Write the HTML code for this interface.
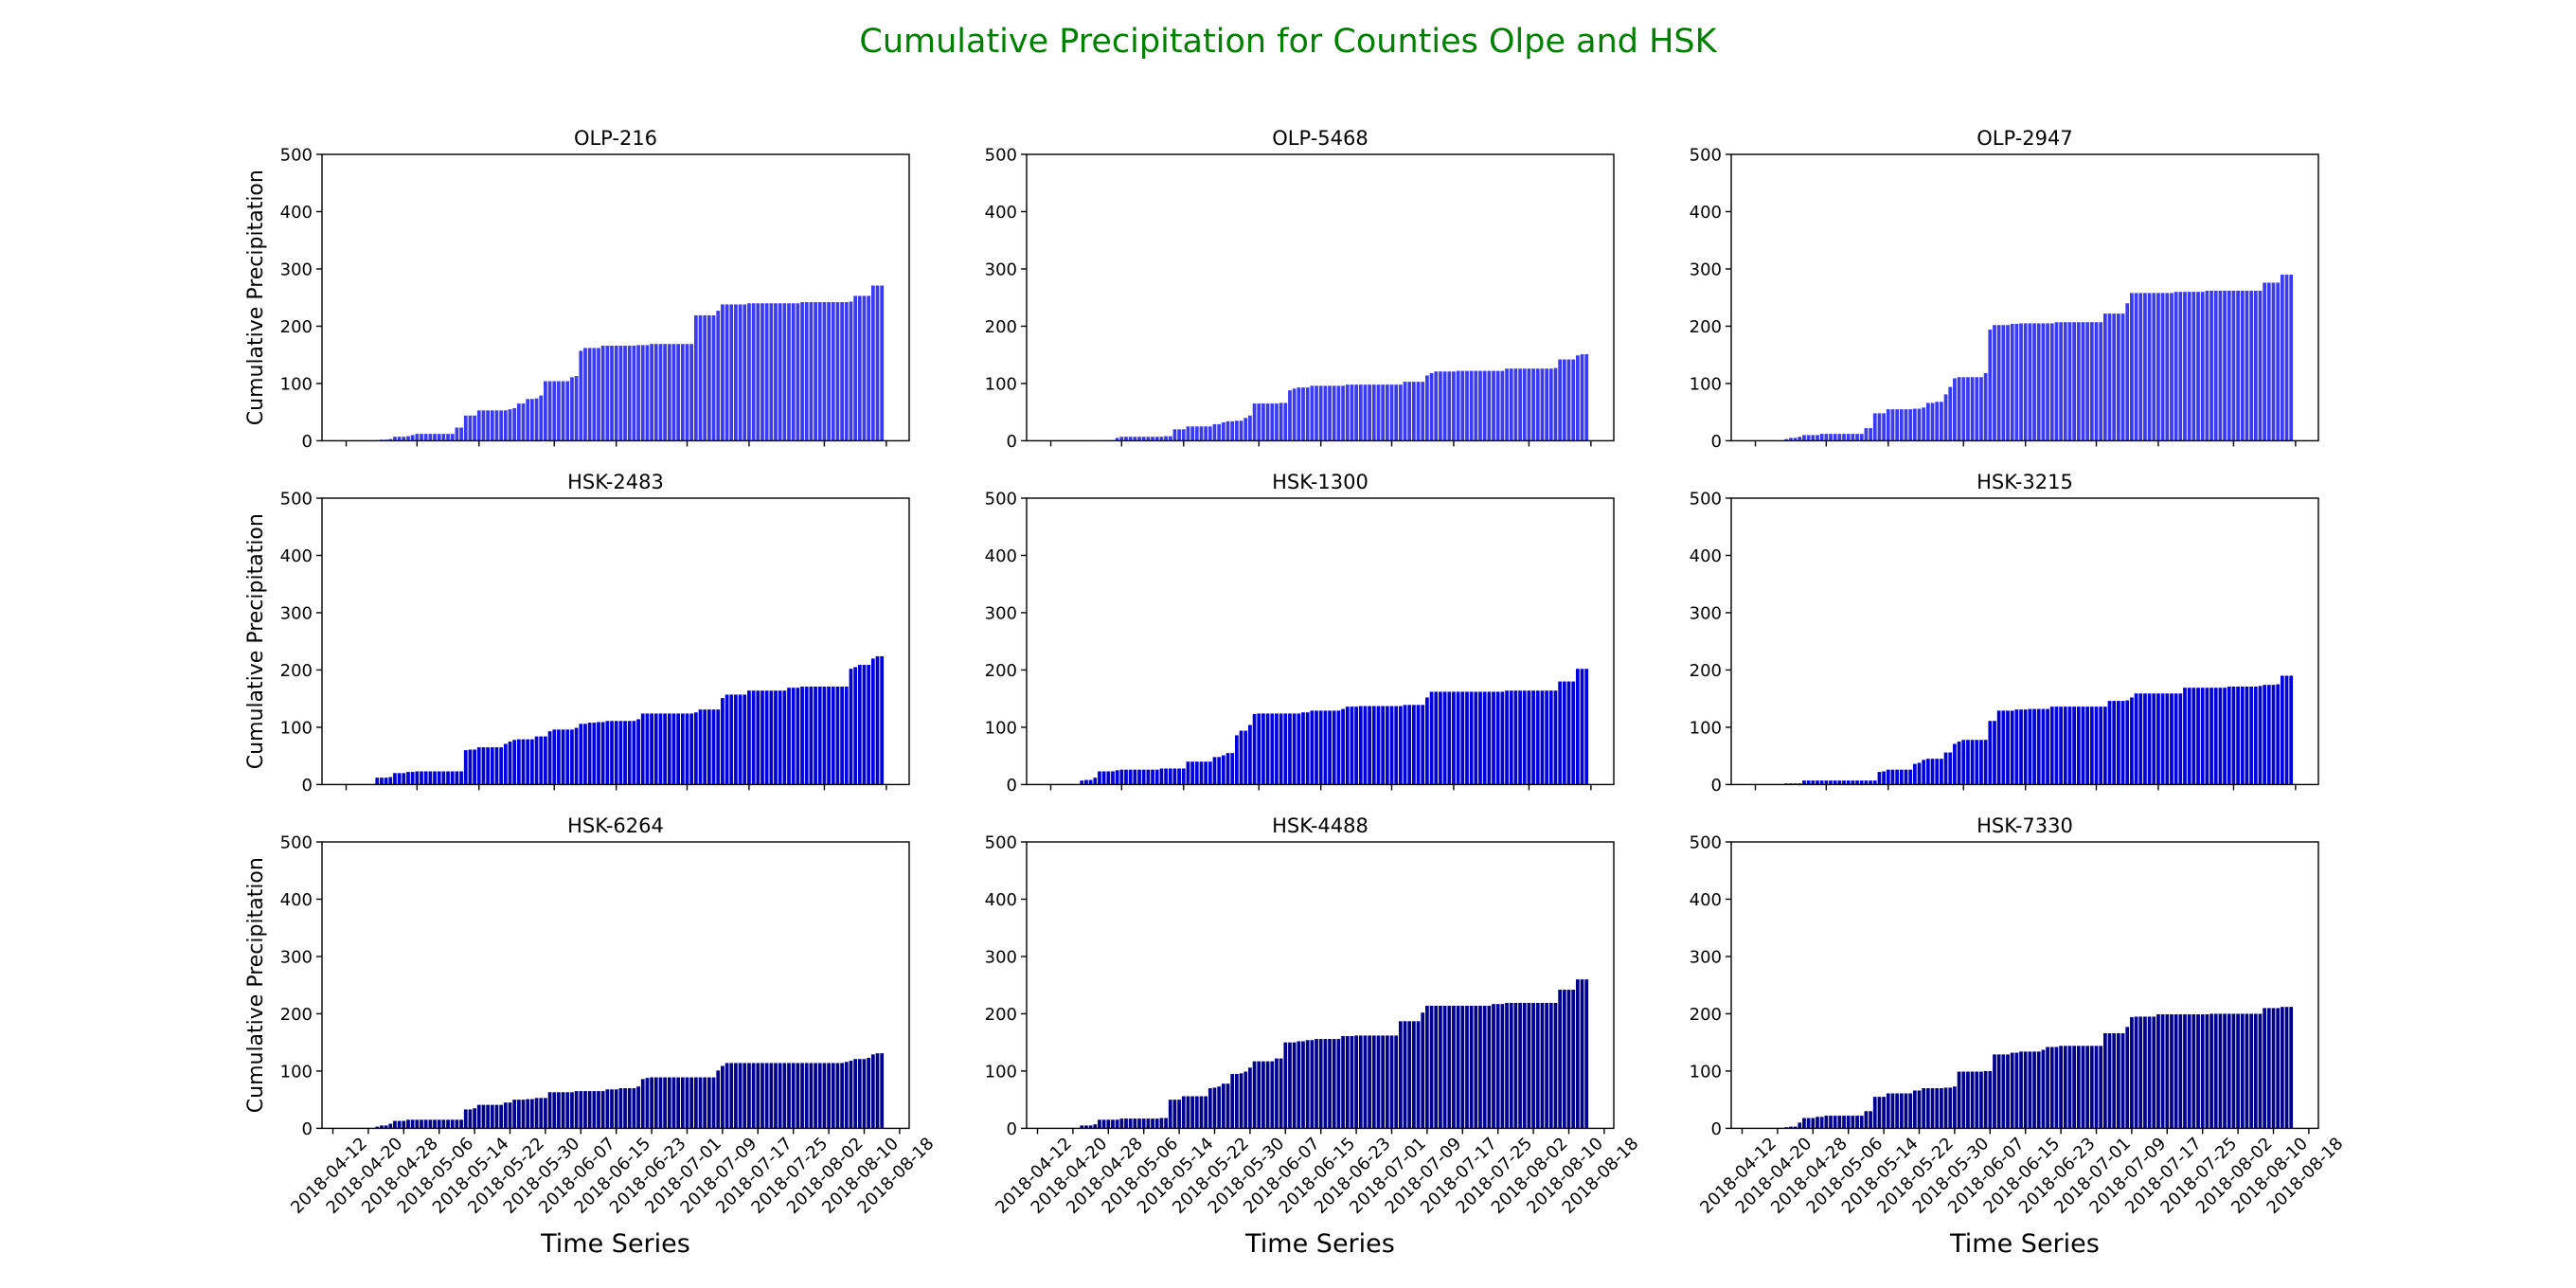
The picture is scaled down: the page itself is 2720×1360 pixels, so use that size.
<!DOCTYPE html>
<html><head><meta charset="utf-8"><style>
html,body{margin:0;padding:0;background:#fff;}
svg{display:block;font-family:"DejaVu Sans","Liberation Sans",sans-serif;}
</style></head><body>
<svg id="fig" width="2720" height="1360" viewBox="0 0 2720 1360">
<text x="1360" y="55" text-anchor="middle" font-size="35" fill="#008000">Cumulative Precipitation for Counties Olpe and HSK</text>
</svg>
<script>
// Panel titles
const panelTitles = ["OLP-216","OLP-5468","OLP-2947","HSK-2483","HSK-1300","HSK-3215","HSK-6264","HSK-4488","HSK-7330"];
// Daily bars start 2018-04-16 (day 4 from 2018-04-12), 121 days; run-length [value, days]
const olp216 = [[0,6],[1,1],[2,2],[3,1],[7,3],[8,1],[10,1],[12,9],[23,2],[44,3],[53,7],[55,1],[57,1],[65,2],[73,2],[74,1],[79,1],[104,6],[111,1],[113,1],[157,1],[162,4],[166,8],[167,3],[169,10],[219,5],[227,1],[238,6],[240,12],[242,11],[243,1],[253,4],[271,3]];
const olp5468 = [[0,10],[1,4],[5,1],[7,10],[8,2],[20,3],[25,6],[29,2],[32,1],[34,2],[35,2],[40,1],[44,1],[65,6],[66,2],[88,1],[91,1],[93,3],[96,8],[98,13],[103,5],[114,1],[118,1],[121,5],[122,11],[126,11],[127,1],[142,4],[149,1],[151,2]];
const olp2947 = [[0,6],[3,1],[5,2],[7,1],[10,4],[12,10],[22,2],[48,3],[55,6],[56,2],[58,1],[66,2],[68,2],[81,1],[94,1],[109,1],[111,6],[118,1],[194,1],[202,4],[204,2],[205,8],[207,11],[222,5],[240,1],[258,10],[260,7],[262,13],[276,4],[290,3]];
const hsk2483 = [[0,6],[12,3],[13,1],[20,3],[22,2],[23,11],[60,1],[61,2],[65,6],[71,1],[75,1],[78,1],[79,4],[84,3],[93,1],[96,5],[99,1],[106,2],[108,2],[109,2],[111,7],[114,1],[124,12],[126,1],[131,5],[151,1],[157,5],[164,9],[169,3],[171,11],[202,1],[205,1],[209,3],[220,1],[224,2]];
const hsk1300 = [[0,6],[7,1],[8,2],[12,1],[23,4],[25,1],[26,9],[28,6],[40,6],[48,2],[51,1],[55,2],[86,1],[94,2],[104,1],[123,1],[124,10],[126,2],[129,7],[132,1],[136,3],[137,10],[139,5],[152,1],[162,17],[164,12],[180,4],[202,3]];
const hsk3215 = [[0,6],[2,4],[7,17],[22,1],[23,1],[26,6],[36,1],[38,1],[43,1],[45,4],[56,2],[71,1],[75,1],[78,6],[111,2],[129,4],[131,3],[132,5],[136,13],[146,4],[147,1],[152,1],[159,11],[169,10],[171,7],[172,1],[174,3],[175,1],[190,3]];
const hsk6264 = [[0,6],[3,1],[5,2],[8,1],[13,3],[15,13],[33,2],[35,1],[41,6],[45,2],[50,3],[51,2],[53,3],[63,6],[65,7],[68,3],[70,4],[73,1],[86,1],[88,1],[89,15],[101,1],[109,1],[114,27],[116,1],[118,1],[121,3],[123,1],[129,1],[131,2]];
const hsk4488 = [[0,6],[5,3],[7,1],[15,5],[17,9],[18,2],[50,3],[56,6],[70,1],[71,1],[73,1],[78,2],[95,2],[96,1],[99,1],[106,1],[117,5],[122,2],[150,3],[152,2],[154,2],[156,6],[161,3],[162,10],[187,5],[202,1],[214,15],[217,3],[219,12],[242,4],[260,3]];
const hsk7330 = [[0,6],[2,1],[3,2],[10,1],[18,3],[20,2],[22,9],[30,2],[55,3],[61,6],[66,2],[70,5],[71,2],[73,1],[99,6],[100,2],[129,4],[132,2],[134,5],[137,1],[142,3],[144,10],[166,5],[177,1],[194,1],[195,5],[199,12],[200,12],[210,4],[212,3]];
const allSeries = [olp216,olp5468,olp2947,hsk2483,hsk1300,hsk3215,hsk6264,hsk4488,hsk7330];
const yTicks = [0,100,200,300,400,500];
const bottomTickLabels = ["2018-04-12","2018-04-20","2018-04-28","2018-05-06","2018-05-14","2018-05-22","2018-05-30","2018-06-07","2018-06-15","2018-06-23","2018-07-01","2018-07-09","2018-07-17","2018-07-25","2018-08-02","2018-08-10","2018-08-18"];
const bottomTickDays = [0,8,16,24,32,40,48,56,64,72,80,88,96,104,112,120,128];
const topTickDays = [3,19,33,50,64,80,94,111,125];
const firstBarDay = 4;

const NS = "http://www.w3.org/2000/svg";
const svg = document.getElementById("fig");
const lefts = [340,1084,1828], tops = [163,526,889];
const W = 620, H = 302.4, YMAX = 500;
const rowColors = ["#3a3af2","#0000dc","#00008f"];
function mk(tag, attrs, parent){const e=document.createElementNS(NS,tag);for(const k in attrs)e.setAttribute(k,attrs[k]);(parent||svg).appendChild(e);return e;}
function expand(rle){const out=[];rle.forEach(p=>{for(let i=0;i<p[1];i++)out.push(p[0]);});return out;}

for(let p=0;p<9;p++){
  const r=Math.floor(p/3), c=p%3;
  const L=lefts[c], T=tops[r], B=T+H;
  const xs = d => L + 11.5 + d*4.675;
  const ys = v => B - v*H/YMAX;
  const g = mk("g",{});
  
  
  const vals = expand(allSeries[p]);
  vals.forEach((v,i)=>{
    const d = firstBarDay+i;
    const bw = 0.8*4.675;
    const rect = mk("rect",{x:(xs(d)-bw/2).toFixed(2),y:ys(v).toFixed(2),width:bw.toFixed(2),height:(B-ys(v)).toFixed(2),fill:rowColors[r]},g);
    
    
  });
  const frame = mk("rect",{x:L,y:T,width:W,height:H,fill:"none",stroke:"#000","stroke-width":1.4},g);
  
  
  const title = mk("text",{x:L+W/2,y:T-10,"text-anchor":"middle","font-size":21},g);
  title.textContent = panelTitles[p];
  
  
  yTicks.forEach(t=>{
    const y=ys(t);
    mk("line",{x1:L-6,x2:L,y1:y,y2:y,stroke:"#000","stroke-width":1.4},g);
    const tl = mk("text",{x:L-10,y:y+6.5,"text-anchor":"end","font-size":18},g);
    tl.textContent = t;
    
    
  });
  if(c===0){
    const yl = mk("text",{x:0,y:0,"text-anchor":"middle","font-size":22,transform:`translate(${L-63},${T+H/2}) rotate(-90)`},g);
    yl.textContent = "Cumulative Precipitation";
    
    
  }
  if(r<2){
    topTickDays.forEach(d=>{mk("line",{x1:xs(d),x2:xs(d),y1:B,y2:B+6,stroke:"#000","stroke-width":1.4},g);});
  } else {
    bottomTickDays.forEach((d,i)=>{
      const x=xs(d);
      mk("line",{x1:x,x2:x,y1:B,y2:B+6,stroke:"#000","stroke-width":1.4},g);
      const tl = mk("text",{x:0,y:0,"text-anchor":"middle","font-size":18,transform:`translate(${x},${B+54}) rotate(-45)`},g);
      tl.textContent = bottomTickLabels[i];
      
      
    });
    const xl = mk("text",{x:L+W/2,y:1322,"text-anchor":"middle","font-size":27},g);
    xl.textContent = "Time Series";
    
    
  }
}
</script>
</body></html>
